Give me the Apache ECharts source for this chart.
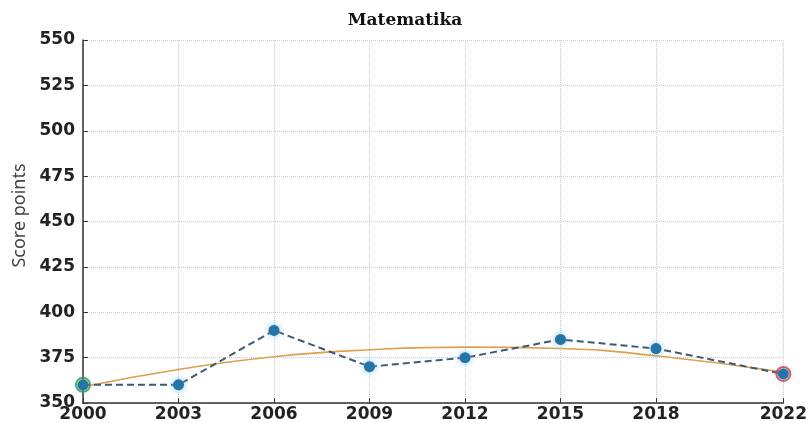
<!DOCTYPE html>
<html>
<head>
<meta charset="utf-8">
<script src="https://cdn.jsdelivr.net/npm/echarts@6/dist/echarts.min.js"></script>
<style>
  html, body { margin: 0; padding: 0; background: #fff; }
  #chart { width: 810px; height: 423px; }
</style>
</head>
<body>
<div id="chart"></div>
<script>
// Every calendar year on the axis; only survey years get labels, ticks and grid lines
const years = [];
for (let y = 2000; y <= 2022; y++) years.push(String(y));
const surveyYears = ['2000', '2003', '2006', '2009', '2012', '2015', '2018', '2022'];
const scores = [360, 360, 390, 370, 375, 385, 380, 366];
const trend = [359, 368.5, 375.5, 379.3, 380.8, 380, 376, 367];
const yTicks = [350, 375, 400, 425, 450, 475, 500, 525, 550];

const isSurvey = (idx, val) => surveyYears.includes(String(val));

const chart = echarts.init(document.getElementById('chart'));
chart.setOption({
  animation: false,
  backgroundColor: '#fff',
  title: {
    text: 'Matematika',
    left: 'center',
    top: 7,
    textStyle: { fontFamily: 'DejaVu Serif', fontWeight: 'bold', fontSize: 17, color: '#111' }
  },
  grid: { left: 83, right: 25, top: 40, bottom: 20, containLabel: false },
  xAxis: {
    type: 'category',
    data: years,
    boundaryGap: false,
    axisLine: { lineStyle: { color: '#333', width: 1.5 } },
    axisTick: { inside: true, length: 5, interval: isSurvey, lineStyle: { color: '#333' } },
    axisLabel: {
      interval: isSurvey,
      margin: 3,
      fontFamily: 'DejaVu Sans', fontWeight: 'bold', fontSize: 17, color: '#222'
    },
    splitLine: { show: true, interval: isSurvey, lineStyle: { color: '#ccc', type: 'dotted', width: 1 } }
  },
  yAxis: {
    type: 'value',
    min: yTicks[0],
    max: yTicks[yTicks.length - 1],
    interval: 25,
    name: 'Score points',
    nameLocation: 'middle',
    nameGap: 53,
    nameTextStyle: { fontFamily: 'Noto Sans', fontSize: 18, color: '#444', padding: [0, 0, 0, 12] },
    axisLine: { show: true, lineStyle: { color: '#333', width: 1.5 } },
    axisTick: { show: true, inside: true, length: 5, lineStyle: { color: '#333' } },
    axisLabel: { margin: 8, fontFamily: 'DejaVu Sans', fontWeight: 'bold', fontSize: 17, color: '#222' },
    splitLine: { show: true, lineStyle: { color: '#ccc', type: 'dotted', width: 1 } }
  },
  series: [
    {
      name: 'Trend',
      type: 'line',
      smooth: 0.5,
      data: surveyYears.map((y, i) => [y, trend[i]]),
      symbol: 'none',
      lineStyle: { color: '#dca050', width: 1.6 },
      z: 2
    },
    {
      name: 'Score',
      type: 'line',
      data: surveyYears.map((y, i) => [y, scores[i]]),
      symbol: 'circle',
      symbolSize: 11,
      itemStyle: { color: '#2474a8', shadowColor: 'rgba(120,190,240,0.9)', shadowBlur: 6 },
      lineStyle: { color: '#3d5a72', width: 2, type: [7, 4] },
      z: 3
    },
    {
      name: 'First',
      type: 'scatter',
      data: [[surveyYears[0], scores[0]]],
      symbol: 'circle',
      symbolSize: 14,
      itemStyle: { color: 'rgba(0,0,0,0)', borderColor: '#2e9a3a', borderWidth: 2 },
      z: 4
    },
    {
      name: 'Last',
      type: 'scatter',
      data: [[surveyYears[surveyYears.length - 1], scores[scores.length - 1]]],
      symbol: 'circle',
      symbolSize: 14,
      itemStyle: { color: 'rgba(0,0,0,0)', borderColor: '#d23a3a', borderWidth: 2 },
      z: 4
    }
  ]
});
</script>
</body>
</html>
